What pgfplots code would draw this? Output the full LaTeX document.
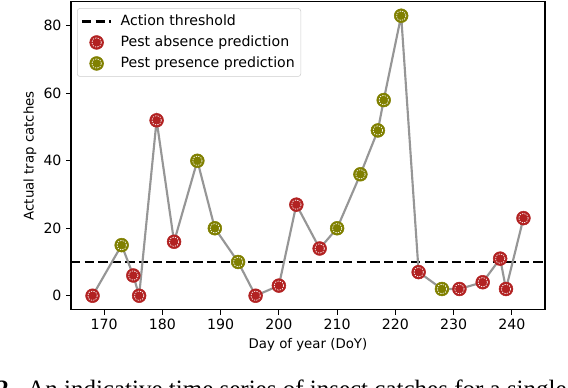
\documentclass[border=0pt]{standalone}
\usepackage{fontspec}
\setmainfont{DejaVu Sans}
\newfontfamily\capfont{Liberation Serif}
\usepackage{pgfplots}
\pgfplotsset{compat=1.18}
\definecolor{redc}{RGB}{178,34,34}
\definecolor{olivec}{RGB}{128,128,0}
\definecolor{linegray}{RGB}{150,150,150}
\begin{document}
\begin{tikzpicture}
\path[use as bounding box] (-53.25pt,-58.7pt) rectangle (372.75pt,232.3pt);
\begin{axis}[
  scale only axis, width=355.5pt, height=231pt,
  xmin=164.3, xmax=245.7, ymin=-4.15, ymax=87.15,
  xtick={170,180,...,240}, ytick={0,20,...,80},
  tick align=outside, major tick length=3.6pt,
  xtick pos=left, ytick pos=left,
  axis line style={line width=0.8pt},
  tick style={line width=0.8pt, black},
  ticklabel style={font=\fontsize{10.6}{12}\selectfont},
  /pgf/number format/assume math mode=true,
  label style={font=\fontsize{10.6}{12}\selectfont},
  xlabel={Day of year (DoY)}, ylabel={Actual trap catches},
  every axis x label/.style={at={(axis description cs:0.5,-0.1147)}, anchor=center},
  every axis y label/.style={at={(axis description cs:-0.0865,0.5)}, rotate=90, anchor=center},
  legend cell align=left,
  legend style={at={(0.0127,0.979)}, anchor=north west, draw=black!20, rounded corners=2pt,
    fill=white, font=\fontsize{10.6}{12}\selectfont, inner xsep=2.5pt, inner ysep=2.5pt,
    nodes={inner sep=2pt, text height=8pt, text depth=2.5pt}, row sep=1.25pt, column sep=4pt},
]
\addplot[black, line width=2pt, dash pattern=on 7pt off 3.2pt,
  legend image code/.code={\draw[black, line width=2pt, dash pattern=on 7pt off 3.2pt] (0pt,0pt) -- (22pt,0pt);}]
  coordinates {(164.3,10) (245.7,10)};
\addlegendentry{Action threshold}
\addplot[linegray, line width=1.6pt, forget plot] coordinates {
(168,0) (173,15) (175,6) (176,0) (179,52) (182,16) (186,40) (189,20) (193,10)
(196,0) (200,3) (203,27) (207,14) (210,20) (214,36) (217,49) (218,58) (221,83)
(224,7) (228,2) (231,2) (235,4) (238,11) (239,2) (242,23)};
\addplot[only marks, mark=*, mark size=5.2pt, mark options={fill=redc, draw=redc, solid},
  legend image code/.code={\node[draw=none, fill=none, inner sep=0pt, outer sep=0pt, anchor=center, text height=0pt, text depth=0pt, minimum width=22pt, minimum height=1pt] at (11pt,0pt) {};
    \fill[redc] (11pt,0pt) circle (5.2pt);
    \draw[white, line width=0.5pt, dash pattern=on 1pt off 0.9pt] (11pt,0pt) circle (3.6pt);}]
  coordinates {(168,0) (175,6) (176,0) (179,52) (182,16) (196,0) (200,3) (203,27)
  (207,14) (224,7) (231,2) (235,4) (238,11) (239,2) (242,23)};
\addlegendentry{Pest absence prediction}
\addplot[only marks, mark=*, mark size=5.2pt, mark options={fill=olivec, draw=olivec, solid},
  legend image code/.code={\node[draw=none, fill=none, inner sep=0pt, outer sep=0pt, anchor=center, text height=0pt, text depth=0pt, minimum width=22pt, minimum height=1pt] at (11pt,0pt) {};
    \fill[olivec] (11pt,0pt) circle (5.2pt);
    \draw[white, line width=0.5pt, dash pattern=on 1pt off 0.9pt] (11pt,0pt) circle (3.6pt);}]
  coordinates {(173,15) (186,40) (189,20) (193,10) (210,20) (214,36) (217,49)
  (218,58) (221,83) (228,2)};
\addlegendentry{Pest presence prediction}
\addplot[forget plot, only marks, mark=o, mark size=3.6pt,
  mark options={draw=white, line width=0.5pt, dash pattern=on 1pt off 0.9pt}] coordinates {
(168,0) (173,15) (175,6) (176,0) (179,52) (182,16) (186,40) (189,20) (193,10)
(196,0) (200,3) (203,27) (207,14) (210,20) (214,36) (217,49) (218,58) (221,83)
(224,7) (228,2) (231,2) (235,4) (238,11) (239,2) (242,23)};
\end{axis}
\node[anchor=base west, inner sep=0pt, font=\capfont\fontsize{18.75}{22}\selectfont] at (-56.25pt,-65.9pt) {\textbf{2.}};
\node[anchor=base west, inner sep=0pt, font=\capfont\fontsize{18.75}{22}\selectfont] at (-33pt,-65.9pt) {An indicative time series of insect catches for a single};
\end{tikzpicture}
\end{document}
